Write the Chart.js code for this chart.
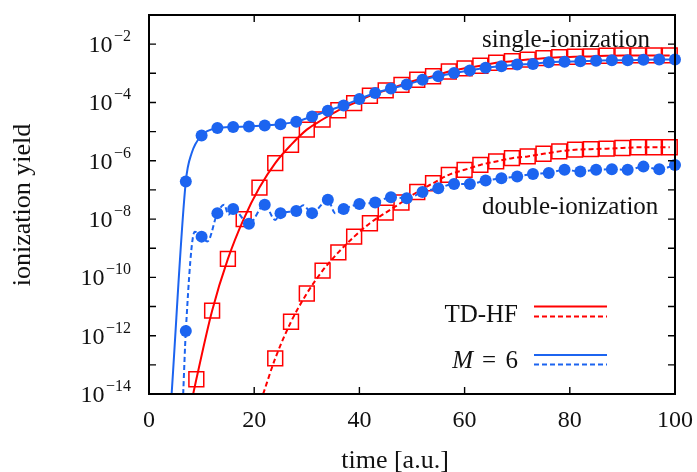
<!DOCTYPE html>
<html>
<head>
<meta charset="utf-8">
<script src="https://cdn.jsdelivr.net/npm/chart.js@4/dist/chart.umd.min.js"></script>
<style>
  html, body { margin: 0; padding: 0; background: #fff; }
  #wrap { width: 697px; height: 472px; }
</style>
</head>
<body>
<div id="wrap"><canvas id="c" width="697" height="472"></canvas></div>
<script>
// ---- data: ionization yields vs. time (a.u.) ----
// TD-HF, markers every 3 a.u.
const tdhfSingleT = [9,12,15,18,21,24,27,30,33,36,39,42,45,48,51,54,57,60,63,66,69,72,75,78,81,84,87,90,93,96,99];
const tdhfSingle  = [3.2e-14,7.2e-12,4.3e-10,1.0e-8,1.2e-7,8.3e-7,3.5e-6,1.17e-5,2.6e-5,5.4e-5,9.5e-5,1.7e-4,2.6e-4,4.0e-4,6.0e-4,7.9e-4,1.15e-3,1.48e-3,1.82e-3,2.3e-3,2.6e-3,2.95e-3,3.3e-3,3.55e-3,3.7e-3,3.8e-3,4.0e-3,4.1e-3,4.1e-3,4.1e-3,4.1e-3];
const tdhfDoubleT = [24,27,30,33,36,39,42,45,48,51,54,57,60,63,66,69,72,75,78,81,84,87,90,93,96,99];
const tdhfDouble  = [1.66e-13,3.0e-12,2.8e-11,1.7e-10,7.2e-10,2.5e-9,7.2e-9,1.66e-8,3.7e-8,8.5e-8,1.7e-7,3.3e-7,4.9e-7,7.2e-7,9.5e-7,1.23e-6,1.41e-6,1.74e-6,2.1e-6,2.4e-6,2.5e-6,2.6e-6,2.75e-6,2.9e-6,2.9e-6,2.9e-6];

// M = 6, markers every 3 a.u.
const mT = [7,10,13,16,19,22,25,28,31,34,37,40,43,46,49,52,55,58,61,64,67,70,73,76,79,82,85,88,91,94,97,100];
const mSingle = [1.95e-7,7.4e-6,1.32e-5,1.45e-5,1.5e-5,1.62e-5,1.8e-5,2.2e-5,3.3e-5,5.2e-5,7.9e-5,1.32e-4,2.1e-4,3.0e-4,4.1e-4,6.0e-4,7.9e-4,1.02e-3,1.26e-3,1.55e-3,1.74e-3,2.0e-3,2.1e-3,2.4e-3,2.5e-3,2.6e-3,2.7e-3,2.8e-3,2.8e-3,2.9e-3,2.95e-3,2.95e-3];
const mDouble = [1.45e-12,2.5e-9,1.6e-8,2.2e-8,6.9e-9,3.1e-8,1.6e-8,1.9e-8,1.6e-8,4.6e-8,2.2e-8,3.3e-8,3.7e-8,5.6e-8,5.2e-8,8.5e-8,1.15e-7,1.6e-7,1.6e-7,2.1e-7,2.5e-7,2.9e-7,3.5e-7,3.8e-7,4.9e-7,4.3e-7,4.9e-7,5.1e-7,4.9e-7,6.3e-7,5.1e-7,7.2e-7];

// extra curve points between markers (line only): [time, yield]
const tdhfSingleExtra = [[8.4, 1e-14]];
const tdhfDoubleExtra = [[21.7, 1e-14]];
const mSingleExtra = [[4.3, 1e-14], [8.1, 1.8e-6]];
const mDoubleExtra = [[6.5, 1e-14], [8.7, 3.7e-9], [11.1, 1.7e-9], [14.3, 3.1e-8], [15.1, 1.4e-8], [24.0, 9.3e-9], [29.3, 3.0e-8], [35.4, 1.6e-8]];

// axis ticks
const xTicks = [0, 20, 40, 60, 80, 100];
const yTickExps = [-14, -13, -12, -11, -10, -9, -8, -7, -6, -5, -4, -3, -2, -1];
const yLabelExps = [-14, -12, -10, -8, -6, -4, -2];

const RED = '#ff0000';
const BLUE = 'rgb(28,100,240)';
const FONT = '"Liberation Serif", "Times New Roman", serif';

const pts = (ts, ys) => ts.map((t, i) => ({ x: t, y: ys[i] }));
const curve = (ts, ys, extra) =>
  pts(ts, ys).concat(extra.map(([x, y]) => ({ x, y }))).sort((a, b) => a.x - b.x);

const lineDs = (data, color, dashed, order) => ({
  data, borderColor: color, borderWidth: 2, borderDash: dashed ? [5, 3] : [],
  pointRadius: 0, fill: false, cubicInterpolationMode: 'monotone', order
});
const markDs = (data, style, order) => style === 'square' ? ({
  data, showLine: false, pointStyle: 'rect', pointRadius: 10.5, pointBorderWidth: 1.5,
  pointBorderColor: RED, pointBackgroundColor: 'rgba(0,0,0,0)', clip: 14, order
}) : ({
  data, showLine: false, pointStyle: 'circle', pointRadius: 6, pointBorderWidth: 0,
  pointBorderColor: BLUE, pointBackgroundColor: BLUE, clip: 14, order
});

// frame, inward ticks, labels, annotations and key
const decor = {
  id: 'decor',
  afterDraw(chart) {
    const { ctx, chartArea: a, scales: { x, y } } = chart;
    ctx.save();
    ctx.strokeStyle = '#000';
    ctx.lineWidth = 1.4;
    const tl = 7;
    ctx.beginPath();
    xTicks.forEach(v => {
      const px = x.getPixelForValue(v);
      ctx.moveTo(px, a.bottom); ctx.lineTo(px, a.bottom - tl);
      ctx.moveTo(px, a.top); ctx.lineTo(px, a.top + tl);
    });
    yTickExps.forEach(e => {
      const py = y.getPixelForValue(Math.pow(10, e));
      ctx.moveTo(a.left, py); ctx.lineTo(a.left + tl, py);
      ctx.moveTo(a.right, py); ctx.lineTo(a.right - tl, py);
    });
    ctx.stroke();
    ctx.lineWidth = 2;
    ctx.strokeRect(a.left, a.top, a.right - a.left, a.bottom - a.top);

    ctx.fillStyle = '#111';
    // x tick labels
    ctx.font = '24px ' + FONT;
    ctx.textAlign = 'center';
    ctx.textBaseline = 'alphabetic';
    xTicks.forEach(v => ctx.fillText(String(v), x.getPixelForValue(v), 427));

    // y tick labels 10^n
    const rightEdge = 131;
    yLabelExps.forEach(e => {
      const py = y.getPixelForValue(Math.pow(10, e));
      const ex = '\u2212' + Math.abs(e);
      ctx.font = '16px ' + FONT;
      const ew = ctx.measureText(ex).width;
      ctx.textAlign = 'left';
      ctx.fillText(ex, rightEdge - ew, py - 3);
      ctx.font = '24px ' + FONT;
      ctx.textAlign = 'right';
      ctx.fillText('10', rightEdge - ew - 1.5, py + 8);
    });

    // axis titles
    ctx.font = '26px ' + FONT;
    ctx.textAlign = 'center';
    ctx.fillText('time [a.u.]', 395, 468);
    ctx.save();
    ctx.translate(30, 205);
    ctx.rotate(-Math.PI / 2);
    ctx.fillText('ionization yield', 0, 0);
    ctx.restore();

    // curve annotations
    ctx.font = '25px ' + FONT;
    ctx.textAlign = 'left';
    ctx.fillText('single-ionization', 482, 47);
    ctx.fillText('double-ionization', 482, 214);

    // key
    ctx.textAlign = 'right';
    ctx.fillText('TD-HF', 518, 322);
    ctx.fillText('6', 518, 368);
    ctx.textAlign = 'center';
    ctx.fillText('=', 489, 368);
    ctx.textAlign = 'right';
    ctx.font = 'italic 25px ' + FONT;
    ctx.fillText('M', 473, 368);

    const keyLine = (yy, color, dashed) => {
      ctx.beginPath();
      ctx.strokeStyle = color;
      ctx.lineWidth = 2;
      ctx.setLineDash(dashed ? [5, 3] : []);
      ctx.moveTo(534, yy); ctx.lineTo(607, yy);
      ctx.stroke();
    };
    keyLine(306.5, RED, false);
    keyLine(316.5, RED, true);
    keyLine(355, BLUE, false);
    keyLine(364.5, BLUE, true);
    ctx.restore();
  }
};

new Chart(document.getElementById('c'), {
  type: 'line',
  data: {
    datasets: [
      markDs(pts(mT, mSingle), 'circle', 1),
      markDs(pts(mT, mDouble), 'circle', 1),
      lineDs(curve(mT, mSingle, mSingleExtra), BLUE, false, 2),
      lineDs(curve(mT, mDouble, mDoubleExtra), BLUE, true, 2),
      markDs(pts(tdhfSingleT, tdhfSingle), 'square', 3),
      markDs(pts(tdhfDoubleT, tdhfDouble), 'square', 3),
      lineDs(curve(tdhfSingleT, tdhfSingle, tdhfSingleExtra), RED, false, 4),
      lineDs(curve(tdhfDoubleT, tdhfDouble, tdhfDoubleExtra), RED, true, 4)
    ]
  },
  options: {
    responsive: false,
    animation: false,
    devicePixelRatio: 1,
    events: [],
    layout: { padding: { top: 15, right: 22, left: 0, bottom: 0 } },
    plugins: { legend: { display: false }, tooltip: { enabled: false } },
    scales: {
      x: {
        type: 'linear', min: 0, max: 100,
        grid: { display: false, drawTicks: false }, border: { display: false },
        ticks: { display: false },
        afterFit(s) { s.height = 78; }
      },
      y: {
        type: 'logarithmic', min: 1e-14, max: 1e-1,
        grid: { display: false, drawTicks: false }, border: { display: false },
        ticks: { display: false },
        afterFit(s) { s.width = 149; }
      }
    }
  },
  plugins: [decor]
});
</script>
</body>
</html>
